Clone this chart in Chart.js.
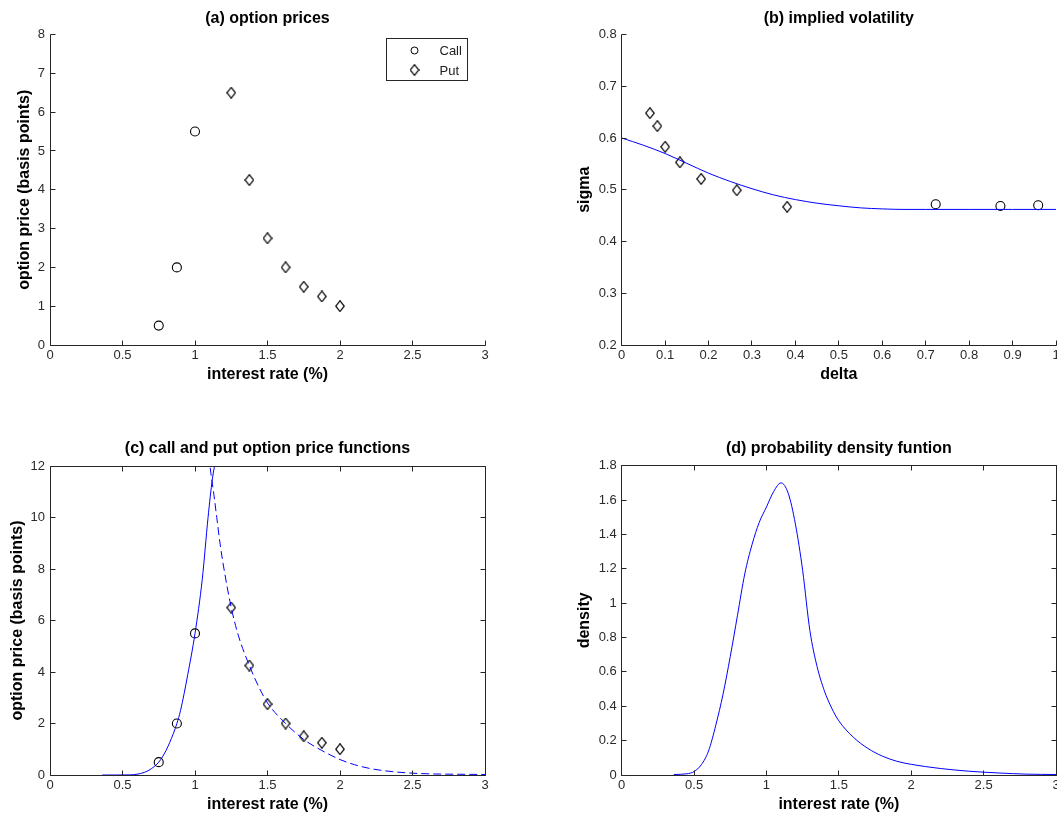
<!DOCTYPE html>
<html><head><meta charset="utf-8">
<script src="https://cdn.jsdelivr.net/npm/chart.js@4.4.0/dist/chart.umd.min.js"></script>
<style>
html,body{margin:0;padding:0;background:#fff;}
#wrap{position:relative;width:1057px;height:816px;overflow:hidden;background:#fff;}
canvas{position:absolute;}
</style></head><body>
<div id="wrap">
<canvas id="ca" width="528" height="408" style="left:0;top:0"></canvas>
<canvas id="cb" width="560" height="408" style="left:528px;top:0"></canvas>
<canvas id="cc" width="528" height="408" style="left:0;top:408px"></canvas>
<canvas id="cd" width="560" height="408" style="left:528px;top:408px"></canvas>
</div>
<script>
const FONT = '"Liberation Sans", Arial, Helvetica, sans-serif';

// (a) market option prices (basis points) by strike rate (%)
const callStrikes = [0.75, 0.875, 1.0];
const callPrices  = [0.5, 2.0, 5.5];
const putStrikes  = [1.25, 1.375, 1.5, 1.625, 1.75, 1.875, 2.0];
const putPrices   = [6.5, 4.25, 2.75, 2.0, 1.5, 1.25, 1.0];

// (b) implied volatility vs delta
const callDeltas = [0.723, 0.872, 0.959];
const callVols   = [0.472, 0.4685, 0.470];
const putDeltas  = [0.065, 0.082, 0.100, 0.134, 0.183, 0.265, 0.381];
const putVols    = [0.648, 0.623, 0.583, 0.553, 0.521, 0.499, 0.467];
const smileDeltas = [0, 0.05, 0.1, 0.15, 0.2, 0.25, 0.3, 0.35, 0.4, 0.45, 0.5, 0.55, 0.6, 0.65, 0.7, 0.8, 0.9, 1.0];
const smileVols   = [0.600, 0.586, 0.570, 0.551, 0.532, 0.516, 0.502, 0.490, 0.481, 0.474, 0.469, 0.465, 0.463, 0.462, 0.462, 0.462, 0.462, 0.462];

// (c) fitted call and put price functions
const callFnRates  = [0.36, 0.45, 0.55, 0.6, 0.65, 0.7, 0.75, 0.8, 0.85, 0.875, 0.9, 0.95, 1.0, 1.05, 1.09, 1.12, 1.145];
const callFnPrices = [0, 0, 0.005, 0.03, 0.1, 0.25, 0.5, 0.95, 1.6, 2.0, 2.5, 3.9, 5.5, 7.6, 10.0, 11.5, 12.3];
const putFnRates  = [1.095, 1.11, 1.13, 1.15, 1.175, 1.2, 1.25, 1.3, 1.375, 1.4375, 1.5, 1.625, 1.75, 1.875, 2.0, 2.1, 2.2, 2.3, 2.4, 2.5, 2.65, 2.8, 3.0];
const putFnPrices = [12.4, 11.7, 10.9, 10.0, 8.9, 8.0, 6.5, 5.4, 4.25, 3.45, 2.8, 2.0, 1.38, 0.95, 0.6, 0.4, 0.26, 0.17, 0.11, 0.07, 0.04, 0.03, 0.02];

// (d) probability density
const densityRates  = [0.36, 0.45, 0.5, 0.55, 0.6, 0.65, 0.7, 0.75, 0.8, 0.85, 0.9, 0.95, 1.0, 1.05, 1.1, 1.15, 1.2, 1.25, 1.3, 1.35, 1.4, 1.45, 1.5, 1.6, 1.7, 1.8, 1.9, 2.0, 2.2, 2.4, 2.6, 2.8, 3.0];
const densityValues = [0.003, 0.007, 0.02, 0.06, 0.14, 0.29, 0.47, 0.69, 0.93, 1.17, 1.34, 1.47, 1.56, 1.65, 1.70, 1.64, 1.46, 1.19, 0.84, 0.63, 0.49, 0.39, 0.315, 0.22, 0.155, 0.11, 0.08, 0.062, 0.038, 0.022, 0.012, 0.005, 0.003];

// tick values
const rateTicks    = [0, 0.5, 1, 1.5, 2, 2.5, 3];
const priceTicksA  = [0, 1, 2, 3, 4, 5, 6, 7, 8];
const deltaTicks   = [0, 0.1, 0.2, 0.3, 0.4, 0.5, 0.6, 0.7, 0.8, 0.9, 1];
const sigmaTicks   = [0.2, 0.3, 0.4, 0.5, 0.6, 0.7, 0.8];
const priceTicksC  = [0, 2, 4, 6, 8, 10, 12];
const densityTicks = [0, 0.2, 0.4, 0.6, 0.8, 1, 1.2, 1.4, 1.6, 1.8];

function makeDiamond() {
  const c = document.createElement('canvas'); c.width = 10; c.height = 12;
  const g = c.getContext('2d'); g.strokeStyle = '#000'; g.lineWidth = 1.2;
  g.beginPath(); g.moveTo(5, 0.7); g.lineTo(9.3, 6); g.lineTo(5, 11.3); g.lineTo(0.7, 6); g.closePath(); g.stroke();
  return c;
}
const DIAMOND = makeDiamond();

const pts = (xs, ys) => xs.map((x, i) => ({x: x, y: ys[i]}));
const marker = (label, xs, ys, style) => ({
  label, data: pts(xs, ys), pointStyle: style, pointRadius: 4.5, borderColor: '#000',
  backgroundColor: 'rgba(0,0,0,0)', borderWidth: 1.1, showLine: false
});
const curve = (label, xs, ys, dash) => ({
  label, data: pts(xs, ys), showLine: true, pointRadius: 0, borderColor: '#0000ff',
  borderWidth: 1, borderDash: dash || [], cubicInterpolationMode: 'monotone', fill: false
});
const fmt = v => String(Math.round(v * 100) / 100);

function axis(isY, ticksArr, min, max, title, titlePad, size) {
  return {
    type: 'linear', min, max,
    grid: {display: false, drawTicks: false},
    border: {display: false},
    ticks: {padding: isY ? 5 : 3, color: '#2a2a2a', font: {family: FONT, size: 13},
      autoSkip: false, maxRotation: 0, minRotation: 0, callback: fmt},
    afterBuildTicks: s => { s.ticks = ticksArr.map(v => ({value: v})); },
    afterFit: s => { if (isY) s.width = size; else s.height = size; },
    title: {display: true, text: title, color: '#000', font: {family: FONT, size: 16, weight: 'bold'},
      padding: isY ? {top: titlePad, bottom: 0} : {top: 0, bottom: titlePad}}
  };
}

const matlabAxes = {
  id: 'matlabAxes',
  afterDatasetsDraw(chart, args, opts) {
    const ctx = chart.ctx, a = chart.chartArea, xs = chart.scales.x, ys = chart.scales.y;
    const c = v => Math.floor(v) + 0.5;
    const L = 5, l = c(a.left), r = c(a.right), t = c(a.top), b = c(a.bottom);
    ctx.save();
    ctx.strokeStyle = '#262626'; ctx.lineWidth = 1;
    ctx.beginPath();
    ctx.moveTo(l, t); ctx.lineTo(l, b); ctx.lineTo(r, b);
    if (opts.box) { ctx.lineTo(r, t); ctx.lineTo(l, t); }
    xs.ticks.forEach(tk => {
      const px = c(xs.getPixelForValue(tk.value));
      ctx.moveTo(px, b); ctx.lineTo(px, b - L);
      if (opts.box) { ctx.moveTo(px, t); ctx.lineTo(px, t + L); }
    });
    ys.ticks.forEach(tk => {
      const py = c(ys.getPixelForValue(tk.value));
      ctx.moveTo(l, py); ctx.lineTo(l + L, py);
      if (opts.box) { ctx.moveTo(r, py); ctx.lineTo(r - L, py); }
    });
    ctx.stroke();
    ctx.restore();
  }
};

const boxLegend = {
  id: 'boxLegend',
  afterDraw(chart, args, opts) {
    if (!opts.show) return;
    const ctx = chart.ctx, a = chart.chartArea;
    const bx = Math.floor(a.right - 99) + 0.5, by = Math.floor(a.top + 4) + 0.5, bw = 81, bh = 42;
    ctx.save();
    ctx.fillStyle = '#fff'; ctx.fillRect(bx, by, bw, bh);
    ctx.strokeStyle = '#262626'; ctx.lineWidth = 1; ctx.strokeRect(bx, by, bw, bh);
    ctx.font = '13px ' + FONT; ctx.fillStyle = '#222'; ctx.textBaseline = 'middle'; ctx.textAlign = 'left';
    chart.data.datasets.forEach((ds, i) => {
      const cy = by + 12 + i * 19.5, cx = bx + 28;
      if (ds.pointStyle === 'circle') {
        ctx.strokeStyle = '#000'; ctx.beginPath(); ctx.arc(cx, cy, 3.5, 0, Math.PI * 2); ctx.stroke();
      } else {
        ctx.drawImage(ds.pointStyle, cx - 5, cy - 6);
      }
      ctx.fillText(ds.label, bx + 53, cy + 1);
    });
    ctx.restore();
  }
};

function build(id, datasets, titleText, titlePad, pad, xAxis, yAxis, box, legend) {
  return new Chart(document.getElementById(id), {
    type: 'scatter',
    data: {datasets},
    options: {
      responsive: false, animation: false, devicePixelRatio: 1, events: [],
      layout: {autoPadding: false, padding: pad},
      plugins: {
        legend: {display: false}, tooltip: {enabled: false},
        title: {display: true, text: titleText, fullSize: false, color: '#000',
          font: {family: FONT, size: 16, weight: 'bold'}, padding: titlePad},
        matlabAxes: {box}, boxLegend: {show: legend}
      },
      scales: {x: xAxis, y: yAxis}
    },
    plugins: [matlabAxes, boxLegend]
  });
}

build('ca',
  [marker('Call', callStrikes, callPrices, 'circle'), marker('Put', putStrikes, putPrices, DIAMOND)],
  '(a) option prices', {top: 8.9, bottom: 6.4}, {left: 0, right: 43, top: 0, bottom: 13},
  axis(false, rateTicks, 0, 3, 'interest rate (%)', 10.4, 50),
  axis(true, priceTicksA, 0, 8, 'option price (basis points)', 15.4, 50), false, true);

build('cb',
  [curve('smile', smileDeltas, smileVols), marker('Put', putDeltas, putVols, DIAMOND), marker('Call', callDeltas, callVols, 'circle')],
  '(b) implied volatility', {top: 8.9, bottom: 6.4}, {left: 33.7, right: 32, top: 0, bottom: 13},
  axis(false, deltaTicks, 0, 1, 'delta', 10.4, 50),
  axis(true, sigmaTicks, 0.2, 0.8, 'sigma', 13.4, 60), false, false);

build('cc',
  [curve('call function', callFnRates, callFnPrices), curve('put function', putFnRates, putFnPrices, [8, 4]),
   marker('Call', callStrikes, callPrices, 'circle'), marker('Put', putStrikes, putPrices, DIAMOND)],
  '(c) call and put option price functions', {top: 31.4, bottom: 7.4}, {left: 0, right: 43, top: 0, bottom: 1},
  axis(false, rateTicks, 0, 3, 'interest rate (%)', 0.4, 40),
  axis(true, priceTicksC, 0, 12, 'option price (basis points)', 7.9, 50), true, false);

build('cd',
  [curve('density', densityRates, densityValues)],
  '(d) probability density funtion', {top: 31.4, bottom: 7.1}, {left: 33.7, right: 32, top: 0, bottom: 1},
  axis(false, rateTicks, 0, 3, 'interest rate (%)', 0.4, 40),
  axis(true, densityTicks, 0, 1.8, 'density', 13.7, 60), true, false);
</script>
</body></html>
